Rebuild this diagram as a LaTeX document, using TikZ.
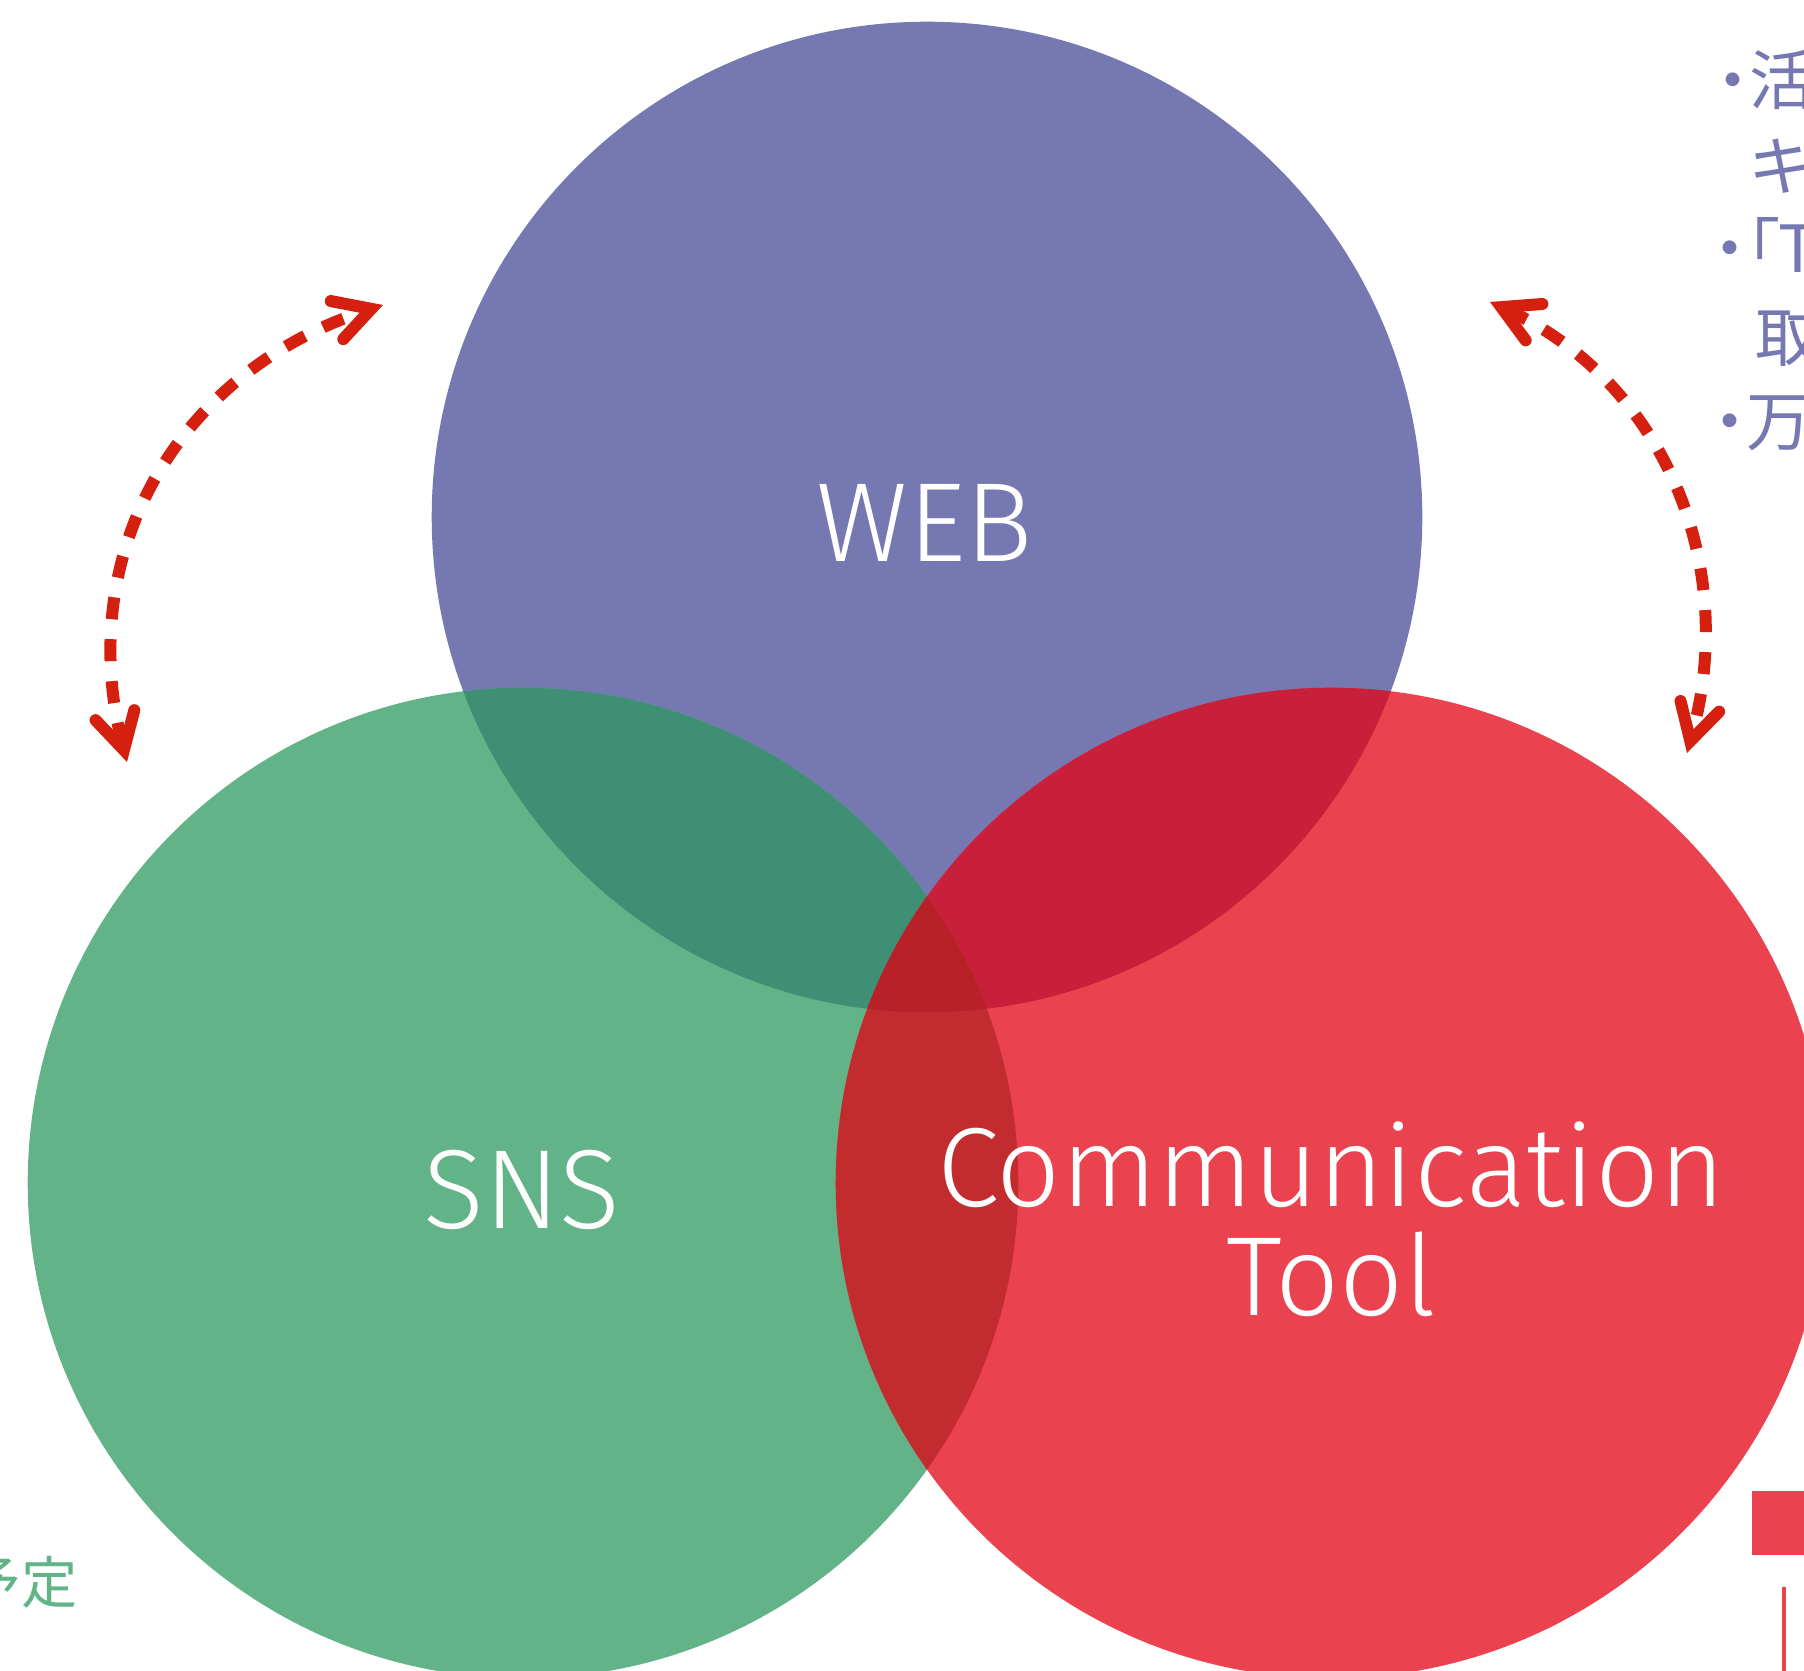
\documentclass[tikz,border=0pt]{standalone}
\usepackage{fontspec}
\setsansfont{Fira Sans Light}
\newfontfamily\jpfont[RawFeature=+palt]{Noto Sans CJK JP}
\usetikzlibrary{arrows.meta}

\definecolor{webblue}{HTML}{7678B1}
\definecolor{snsgreen}{HTML}{62B388}
\definecolor{toolred}{HTML}{EA424F}
\definecolor{websns}{HTML}{3E8F73}
\definecolor{webtool}{HTML}{C81F3A}
\definecolor{snstool}{HTML}{C22C2F}
\definecolor{allthree}{HTML}{B92129}
\definecolor{arrowred}{HTML}{D5200F}

\begin{document}
\begin{tikzpicture}[x=0.01cm,y=-0.01cm,
	ringtext/.style={text=white,inner sep=0pt,font=\sffamily\fontsize{32}{31}\selectfont},
	sidetext/.style={inner sep=0pt,font=\jpfont\fontsize{18.5}{22}\selectfont},
	swing/.style={arrowred,line width=0.12cm,dash pattern=on 0.22cm off 0.2cm,
		>={Straight Barb[length=0.36cm,width=0.4cm,line cap=round,line join=miter]},<->}]
		\useasboundingbox (0,0) rectangle (1804,1671);
		\clip (0,0) rectangle (1804,1671); % the picture is cut at its edges

		\coordinate (WebC)  at (927,517);
		\coordinate (SnsC)  at (523,1183);
		\coordinate (ToolC) at (1331,1183);

		\fill[webblue]  (WebC)  circle[radius=4.95cm];
		\fill[snsgreen] (SnsC)  circle[radius=4.95cm];
		\fill[toolred]  (ToolC) circle[radius=4.95cm];
		\begin{scope}% overlaps with WEB
			\clip (WebC) circle[radius=4.95cm];
			\fill[websns]  (SnsC)  circle[radius=4.95cm];
			\fill[webtool] (ToolC) circle[radius=4.95cm];
		\end{scope}
		\begin{scope}% overlaps with SNS
			\clip (SnsC) circle[radius=4.95cm];
			\fill[snstool] (ToolC) circle[radius=4.95cm];
			\clip (WebC) circle[radius=4.95cm];
			\fill[allthree] (ToolC) circle[radius=4.95cm];
		\end{scope}

		\node[ringtext,anchor=base] (web)  at (925,562)   {WEB};
		\node[ringtext,anchor=base] (sns)  at (522,1228)  {SNS};
		\node[ringtext,anchor=base] (comm) at (1331,1206) {Communication};
		\node[ringtext,anchor=base] (tool) at (1331,1315) {Tool};

		\coordinate (LeftLow)   at (127,762);
		\coordinate (LeftHigh)  at (383,305);
		\coordinate (RightHigh) at (1490,302);
		\coordinate (RightLow)  at (1687,753);
		\draw[swing] (LeftLow) .. controls (75,560) and (170,375) .. (LeftHigh);
		\draw[swing] (RightHigh) .. controls (1660,380) and (1740,560) .. (RightLow);

		\foreach \txt/\xx/\yy [count=\i] in {・活/1716/105,キ/1750/191,・「T/1713/273,取/1755/362,・万/1713/446}{%
			\node[sidetext,text=webblue,anchor=base west] (note\i) at (\xx,\yy) {\txt};
		}
		\node[sidetext,text=snsgreen,anchor=base east,font=\jpfont\fontsize{16}{18}\selectfont] (plan) at (78,1603) {予定};

		\fill[toolred] (1752,1491) rectangle (1816,1555);
		\draw[toolred,line width=0.04cm] (1784,1587) -- (1784,1690);
	  \end{tikzpicture}
\end{document}
